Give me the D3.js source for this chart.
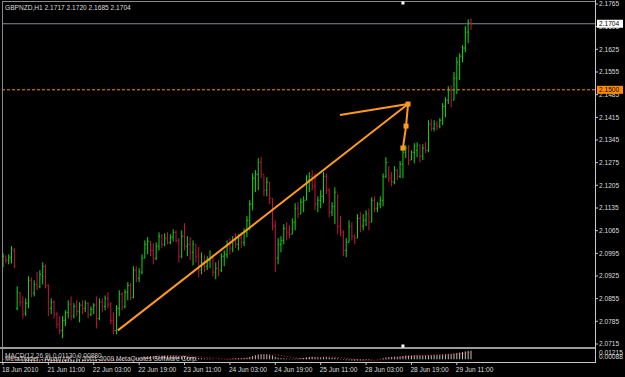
<!DOCTYPE html>
<html>
<head>
<meta charset="utf-8">
<script src="https://cdn.jsdelivr.net/npm/d3@7"></script>
<style>
  body { margin: 0; background: #000; }
  svg { display: block; }
  text { font-family: "Liberation Sans", Arial, sans-serif; font-size: 6.6px; fill: #dcdcdc; }
</style>
</head>
<body>
<div id="chart"></div>
<script>
// GBPNZD H1 bars, 18 Jun 2010 .. 29 Jun 2010
symbol = "GBPNZD,H1"

opens = [2.0967,2.0983,2.0974,2.0980,2.1004,2.0825,2.0872,2.0844,2.0810,2.0841,
 2.0912,2.0872,2.0899,2.0893,2.0924,2.0955,2.0896,2.0825,2.0844,2.0807,
 2.0776,2.0757,2.0788,2.0813,2.0838,2.0801,2.0831,2.0816,2.0835,2.0825,
 2.0841,2.0807,2.0822,2.0835,2.0794,2.0844,2.0831,2.0856,2.0838,2.0788,
 2.0757,2.0825,2.0869,2.0831,2.0875,2.0896,2.0859,2.0943,2.0918,2.0937,
 2.0980,2.1023,2.1032,2.1004,2.0980,2.1017,2.1048,2.1023,2.1042,2.1029,
 2.1045,2.1060,2.1035,2.0986,2.1048,2.1017,2.1023,2.0998,2.1023,2.0986,
 2.0943,2.0967,2.0955,2.0974,2.0980,2.0937,2.0949,2.0943,2.0986,2.0992,
 2.1023,2.1011,2.1035,2.1023,2.1042,2.1029,2.1060,2.1097,2.1147,2.1227,
 2.1239,2.1276,2.1239,2.1190,2.1215,2.1165,2.1079,2.0980,2.1023,2.1035,
 2.1072,2.1060,2.1054,2.1091,2.1134,2.1116,2.1153,2.1159,2.1221,2.1233,
 2.1202,2.1147,2.1159,2.1171,2.1233,2.1190,2.1122,2.1140,2.1184,2.1079,
 2.1060,2.1004,2.1029,2.1079,2.1048,2.1042,2.1103,2.1079,2.1097,2.1116,
 2.1091,2.1159,2.1134,2.1147,2.1159,2.1233,2.1276,2.1227,2.1215,2.1252,
 2.1233,2.1270,2.1307,2.1320,2.1283,2.1307,2.1313,2.1329,2.1295,2.1320,
 2.1313,2.1394,2.1381,2.1394,2.1388,2.1406,2.1449,2.1468,2.1499,2.1468,
 2.1536,2.1579,2.1604,2.1629,2.1678,2.1717]

highs = [2.0995,2.0989,2.0992,2.1017,2.1011,2.0893,2.0875,2.0862,2.0856,2.0924,
 2.0921,2.0912,2.0937,2.0943,2.0967,2.0961,2.0899,2.0856,2.0850,2.0813,
 2.0801,2.0801,2.0819,2.0850,2.0862,2.0841,2.0850,2.0844,2.0850,2.0850,
 2.0844,2.0831,2.0841,2.0862,2.0856,2.0856,2.0865,2.0875,2.0844,2.0813,
 2.0835,2.0881,2.0875,2.0884,2.0906,2.0903,2.0955,2.0955,2.0949,2.0992,
 2.1035,2.1045,2.1032,2.1026,2.1029,2.1060,2.1054,2.1057,2.1060,2.1054,
 2.1069,2.1066,2.1042,2.1066,2.1088,2.1048,2.1045,2.1035,2.1023,2.1014,
 2.0998,2.0989,2.0986,2.1004,2.0986,2.0967,2.0974,2.0995,2.1004,2.1035,
 2.1042,2.1048,2.1057,2.1054,2.1060,2.1072,2.1110,2.1159,2.1242,2.1252,
 2.1289,2.1292,2.1236,2.1230,2.1215,2.1165,2.1097,2.1042,2.1048,2.1085,
 2.1091,2.1082,2.1103,2.1150,2.1153,2.1165,2.1171,2.1236,2.1246,2.1252,
 2.1242,2.1171,2.1190,2.1246,2.1242,2.1196,2.1153,2.1199,2.1178,2.1110,
 2.1066,2.1042,2.1097,2.1091,2.1054,2.1116,2.1122,2.1116,2.1128,2.1134,
 2.1168,2.1171,2.1153,2.1171,2.1242,2.1292,2.1264,2.1246,2.1264,2.1255,
 2.1280,2.1320,2.1329,2.1329,2.1313,2.1335,2.1338,2.1332,2.1332,2.1338,
 2.1406,2.1409,2.1406,2.1403,2.1412,2.1459,2.1477,2.1511,2.1514,2.1555,
 2.1601,2.1613,2.1638,2.1697,2.1718,2.1720]

lows = [2.0952,2.0964,2.0961,2.0964,2.0949,2.0819,2.0831,2.0794,2.0801,2.0825,
 2.0859,2.0862,2.0881,2.0887,2.0899,2.0887,2.0801,2.0807,2.0794,2.0763,
 2.0745,2.0733,2.0770,2.0794,2.0788,2.0794,2.0801,2.0782,2.0807,2.0813,
 2.0794,2.0801,2.0807,2.0763,2.0788,2.0813,2.0819,2.0825,2.0776,2.0745,
 2.0745,2.0801,2.0819,2.0825,2.0850,2.0850,2.0856,2.0906,2.0906,2.0930,
 2.0980,2.0992,2.0986,2.0961,2.0974,2.1004,2.1011,2.1017,2.1023,2.1023,
 2.1032,2.1029,2.0967,2.0980,2.1004,2.0986,2.0974,2.0958,2.0967,2.0921,
 2.0930,2.0937,2.0943,2.0949,2.0924,2.0915,2.0924,2.0937,2.0955,2.0980,
 2.0992,2.0998,2.1011,2.1004,2.1011,2.1017,2.1045,2.1066,2.1128,2.1184,
 2.1190,2.1227,2.1171,2.1171,2.1147,2.1066,2.0937,2.0961,2.0998,2.1023,
 2.1035,2.1042,2.1054,2.1066,2.1103,2.1116,2.1122,2.1159,2.1184,2.1190,
 2.1128,2.1122,2.1134,2.1150,2.1178,2.1106,2.1110,2.1085,2.1054,2.1048,
 2.0986,2.0983,2.1029,2.1035,2.1023,2.1042,2.1060,2.1066,2.1079,2.1066,
 2.1091,2.1122,2.1122,2.1134,2.1140,2.1227,2.1215,2.1202,2.1208,2.1221,
 2.1227,2.1227,2.1289,2.1267,2.1283,2.1273,2.1292,2.1276,2.1283,2.1304,
 2.1307,2.1372,2.1372,2.1375,2.1381,2.1391,2.1415,2.1456,2.1446,2.1468,
 2.1487,2.1530,2.1585,2.1616,2.1644,2.1685]

closes = [2.0986,2.0974,2.0983,2.1008,2.0955,2.0875,2.0844,2.0807,2.0841,2.0912,
 2.0869,2.0899,2.0893,2.0930,2.0955,2.0896,2.0825,2.0844,2.0807,2.0776,
 2.0757,2.0788,2.0813,2.0838,2.0801,2.0831,2.0816,2.0835,2.0825,2.0841,
 2.0807,2.0822,2.0835,2.0794,2.0844,2.0831,2.0856,2.0838,2.0788,2.0757,
 2.0825,2.0869,2.0831,2.0875,2.0896,2.0859,2.0943,2.0918,2.0937,2.0980,
 2.1023,2.1032,2.1004,2.0980,2.1017,2.1048,2.1023,2.1042,2.1029,2.1045,
 2.1060,2.1035,2.0986,2.1048,2.1017,2.1023,2.0998,2.1023,2.0986,2.0943,
 2.0967,2.0955,2.0974,2.0980,2.0937,2.0949,2.0943,2.0986,2.0992,2.1023,
 2.1011,2.1035,2.1023,2.1042,2.1029,2.1060,2.1097,2.1147,2.1227,2.1239,
 2.1276,2.1239,2.1190,2.1215,2.1165,2.1079,2.0980,2.1023,2.1035,2.1072,
 2.1060,2.1054,2.1091,2.1134,2.1116,2.1153,2.1159,2.1221,2.1233,2.1202,
 2.1147,2.1159,2.1171,2.1233,2.1190,2.1122,2.1140,2.1184,2.1079,2.1060,
 2.1004,2.1029,2.1079,2.1048,2.1042,2.1103,2.1079,2.1097,2.1116,2.1091,
 2.1159,2.1134,2.1147,2.1159,2.1233,2.1276,2.1227,2.1215,2.1252,2.1233,
 2.1270,2.1307,2.1320,2.1283,2.1307,2.1326,2.1329,2.1295,2.1320,2.1313,
 2.1394,2.1381,2.1394,2.1388,2.1406,2.1449,2.1468,2.1499,2.1468,2.1536,
 2.1585,2.1604,2.1629,2.1678,2.1709,2.1704]

// price scale labels (right side)
priceTicks = [2.1765,2.1695,2.1625,2.1555,2.1485,2.1415,2.1345,2.1275,2.1205,
 2.1135,2.1065,2.0995,2.0925,2.0855,2.0785,2.0715]

// time axis: bar index -> label
timeTickBars = [0,16,32,48,64,80,96,112,128,144,160]
timeLabels = ["18 Jun 2010","21 Jun 11:00","22 Jun 03:00","22 Jun 19:00","23 Jun 11:00",
 "24 Jun 03:00","24 Jun 19:00","25 Jun 11:00","28 Jun 03:00","28 Jun 19:00","29 Jun 11:00"]

bidPrice = 2.1704
alertPrice = 2.1500

// drawn objects: [bar index, price]
trendLong = [[40.5, 2.0757], [142.8, 2.1456]]
trendShort = [[118.8, 2.1422], [142.8, 2.1456]]
anchorLine = [[142.8, 2.1456], [142.1, 2.1388], [141.0, 2.1320]]
vlineBar = 141

// MACD(12,26,9) readout and its window scale labels
macdReadout = ["0.01130", "0.00880"]
macdScaleLabels = ["0.01215", "0.00088"]
copyright = "MetaTrader - Alpari UK, \u00a9 2001-2009 MetaQuotes Software Corp."

width = 625
height = 377
plot = {left: 2, right: 595, top: 1, bottom: 347}
macdBox = {top: 350, bottom: 362}

x = d3.scaleLinear().domain([0, 165]).range([3, 471])
y = d3.scaleLinear().domain([2.0715, 2.1765]).range([344, 4])

upColor = "#10d810"
downColor = "#c8123e"
orange = "#ff9a1e"

svg = d3.select("#chart").append("svg")
  .attr("width", width)
  .attr("height", height)
  .style("background", "#000")

svg.append("clipPath").attr("id", "mainclip")
  .append("rect")
  .attr("x", plot.left).attr("y", plot.top)
  .attr("width", plot.right - plot.left).attr("height", plot.bottom - plot.top)

svg.append("clipPath").attr("id", "macdclip")
  .append("rect")
  .attr("x", plot.left).attr("y", macdBox.top)
  .attr("width", plot.right - plot.left).attr("height", macdBox.bottom - macdBox.top)

bars = d3.range(opens.length).map(function(i) {
  return {i: i, o: opens[i], h: highs[i], l: lows[i], c: closes[i]}
})

main = svg.append("g").attr("clip-path", "url(#mainclip)")

// bid line + alert level
main.append("line")
  .attr("x1", plot.left).attr("x2", plot.right)
  .attr("y1", y(bidPrice)).attr("y2", y(bidPrice))
  .attr("stroke", "#7f8b99").attr("stroke-width", 1)

main.append("line")
  .attr("x1", plot.left).attr("x2", plot.right)
  .attr("y1", y(alertPrice)).attr("y2", y(alertPrice))
  .attr("stroke", "#ff8a00").attr("stroke-width", 1)
  .attr("stroke-dasharray", "3,2")

// OHLC bars
bar = main.selectAll("g.bar")
  .data(bars)
  .join("g")
  .attr("class", "bar")
  .attr("stroke", function(d) { return d.c >= d.o ? upColor : downColor })
  .attr("stroke-width", 1)

bar.append("line")
  .attr("x1", function(d) { return x(d.i) }).attr("x2", function(d) { return x(d.i) })
  .attr("y1", function(d) { return y(d.h) }).attr("y2", function(d) { return y(d.l) })

bar.append("line") // open tick
  .attr("x1", function(d) { return x(d.i) - 1 }).attr("x2", function(d) { return x(d.i) })
  .attr("y1", function(d) { return y(d.o) }).attr("y2", function(d) { return y(d.o) })

bar.append("line") // close tick
  .attr("x1", function(d) { return x(d.i) }).attr("x2", function(d) { return x(d.i) + 1 })
  .attr("y1", function(d) { return y(d.c) }).attr("y2", function(d) { return y(d.c) })

// trend lines
objLine = d3.line()
  .x(function(d) { return x(d[0]) })
  .y(function(d) { return y(d[1]) })

;[trendLong, trendShort, anchorLine].forEach(function(pts) {
  main.append("path")
    .attr("d", objLine(pts))
    .attr("fill", "none")
    .attr("stroke", orange)
    .attr("stroke-width", 2)
    .attr("stroke-linejoin", "round")
})

main.selectAll("rect.anchor")
  .data(anchorLine)
  .join("rect")
  .attr("class", "anchor")
  .attr("x", function(d) { return x(d[0]) - 2.5 })
  .attr("y", function(d) { return y(d[1]) - 2.5 })
  .attr("width", 5).attr("height", 5)
  .attr("fill", orange)

// frame
frame = svg.append("g").attr("stroke-width", 1).attr("fill", "none")
frame.append("line").attr("x1", plot.left).attr("x2", plot.right).attr("y1", 1.5).attr("y2", 1.5).attr("stroke", "#8a8a8a")
frame.append("line").attr("x1", 2.5).attr("x2", 2.5).attr("y1", 1).attr("y2", macdBox.bottom).attr("stroke", "#8a8a8a")
frame.append("line").attr("x1", 0).attr("x2", plot.right).attr("y1", 348).attr("y2", 348).attr("stroke", "#9a9a9a").attr("stroke-width", 2)
frame.append("line").attr("x1", 0).attr("x2", plot.right).attr("y1", macdBox.bottom + 0.5).attr("y2", macdBox.bottom + 0.5).attr("stroke", "#c8c8c8")
frame.append("line").attr("x1", plot.right + 0.5).attr("x2", plot.right + 0.5).attr("y1", 0).attr("y2", macdBox.bottom + 1).attr("stroke", "#c8c8c8")

// vertical line object handles
svg.selectAll("rect.handle")
  .data([plot.top + 2, plot.bottom - 1])
  .join("rect")
  .attr("class", "handle")
  .attr("x", x(vlineBar) - 1.5).attr("y", function(d) { return d - 1.5 })
  .attr("width", 3).attr("height", 3)
  .attr("fill", "#ffffff")

// price axis
axisG = svg.append("g")
axisG.selectAll("line.tick")
  .data(priceTicks)
  .join("line")
  .attr("x1", plot.right).attr("x2", plot.right + 3)
  .attr("y1", function(d) { return y(d) }).attr("y2", function(d) { return y(d) })
  .attr("stroke", "#c8c8c8")
axisG.selectAll("text")
  .data(priceTicks)
  .join("text")
  .attr("x", plot.right + 4)
  .attr("y", function(d) { return y(d) + 2.4 })
  .text(function(d) { return d.toFixed(4) })

// price boxes on the axis
function priceBox(p, bg) {
  svg.append("rect")
    .attr("x", plot.right + 2).attr("y", y(p) - 4)
    .attr("width", 26).attr("height", 8)
    .attr("fill", bg)
  svg.append("text")
    .attr("x", plot.right + 4).attr("y", y(p) + 2.4)
    .style("fill", "#000")
    .text(p.toFixed(4))
}
priceBox(bidPrice, "#ffffff")
priceBox(alertPrice, "#ff8c00")

// MACD(12,26,9) from closes
function ema(arr, n) {
  var k = 2 / (n + 1), e = arr[0]
  return arr.map(function(v, i) { if (i > 0) e = v * k + e * (1 - k); return e })
}
ema12 = ema(closes, 12)
ema26 = ema(closes, 26)
macd = closes.map(function(d, i) { return ema12[i] - ema26[i] })
signal = macd.map(function(d, i) { return d3.mean(macd.slice(Math.max(0, i - 8), i + 1)) })

ym = d3.scaleLinear().domain([-0.0035, 0.01215]).range([macdBox.bottom, macdBox.top])

macdG = svg.append("g").attr("clip-path", "url(#macdclip)")
macdG.selectAll("line.hist")
  .data(macd)
  .join("line")
  .attr("class", "hist")
  .attr("x1", function(d, i) { return x(i) }).attr("x2", function(d, i) { return x(i) })
  .attr("y1", ym(0)).attr("y2", function(d) { return ym(d) })
  .attr("stroke", "#c0c0c0").attr("stroke-width", 1)

macdG.append("path")
  .datum(signal)
  .attr("d", d3.line().x(function(d, i) { return x(i) }).y(function(d) { return ym(d) }))
  .attr("fill", "none")
  .attr("stroke", "#e01818")
  .attr("stroke-width", 1)
  .attr("stroke-dasharray", "1,2")

svg.append("text").attr("x", 5).attr("y", 357.5)
  .style("fill", "#c8c8c8")
  .text("MACD(12,26,9) " + macdReadout.join(" "))
svg.append("text").attr("x", 5).attr("y", 360.5)
  .style("fill", "#d0d0d0")
  .text(copyright)

svg.append("text").attr("x", plot.right + 4).attr("y", 354.5).text(macdScaleLabels[0])
svg.append("text").attr("x", plot.right + 4).attr("y", 358.5).text(macdScaleLabels[1])

// time axis
svg.selectAll("line.ttick")
  .data(timeTickBars)
  .join("line")
  .attr("x1", function(d) { return x(d) }).attr("x2", function(d) { return x(d) })
  .attr("y1", macdBox.bottom).attr("y2", macdBox.bottom + 3)
  .attr("stroke", "#c8c8c8")
svg.selectAll("text.tlabel")
  .data(timeTickBars)
  .join("text")
  .attr("class", "tlabel")
  .attr("x", function(d) { return x(d) - 1 })
  .attr("y", 372)
  .text(function(d, i) { return timeLabels[i] })

// header: symbol + last bar OHLC
last = bars[bars.length - 1]
svg.append("text").attr("x", 5).attr("y", 10)
  .text(symbol + "  " + [last.o, last.h, last.l, last.c].map(function(v) { return v.toFixed(4) }).join(" "))
</script>
</body>
</html>
